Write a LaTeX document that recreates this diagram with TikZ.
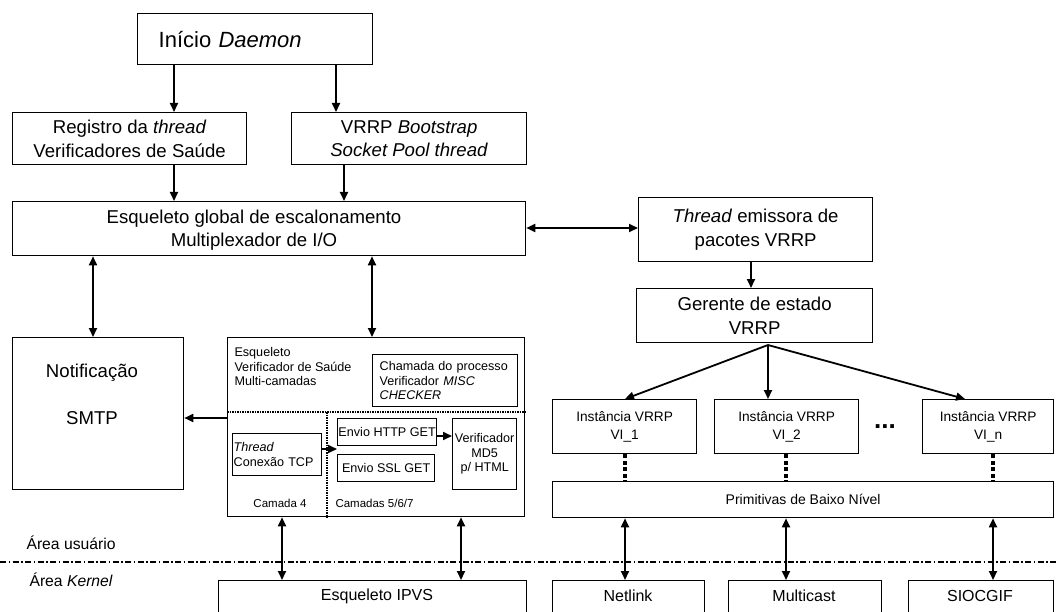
\documentclass[tikz,border=0pt]{standalone}
\usepackage{fontspec}
\setmainfont{Liberation Sans}
\usetikzlibrary{arrows.meta}
\begin{document}
\begin{tikzpicture}[x=1pt,y=-1pt,
  box/.style={draw, line width=1.3pt, inner sep=0pt, align=center, anchor=north west},
  arr/.style={line width=1.8pt, -{Triangle[length=9pt,width=8pt]}},
  darr/.style={line width=1.8pt, {Triangle[length=9pt,width=8pt]}-{Triangle[length=9pt,width=8pt]}},
  fdot/.style={line width=1.4pt, dash pattern=on 1.5pt off 1pt},
  tdot/.style={line width=3.8pt, dash pattern=on 4pt off 2.5pt},
  sep/.style={line width=1.3pt, dash pattern=on 6pt off 2.5pt on 1.5pt off 2.5pt},
  big/.style={font=\fontsize{22}{26}\selectfont},
  main/.style={font=\fontsize{18.6}{23.5}\selectfont},
  small/.style={font=\fontsize{12.6}{14.5}\selectfont},
  tiny/.style={font=\fontsize{11.5}{14}\selectfont},
  vi/.style={font=\fontsize{13.7}{18.5}\selectfont},
  kern/.style={font=\fontsize{16}{19}\selectfont},
  area/.style={font=\fontsize{15.7}{19}\selectfont, anchor=west}
]
\useasboundingbox (0,0) rectangle (1056,612);
\clip (0,0) rectangle (1056,612);

% top part
\node[box, big, minimum width=235pt, minimum height=51pt, text width=193pt, align=left, inner xsep=21pt] (inicio) at (137,13) {Início \textit{Daemon}};
\node[box, main, minimum width=234pt, minimum height=52pt] (reg) at (12,112) {Registro da \textit{thread}\\Verificadores de Saúde};
\node[box, main, minimum width=235pt, minimum height=52pt] (boot) at (291,112) {VRRP \textit{Bootstrap}\\\textit{Socket Pool thread}};
\node[box, minimum width=513pt, minimum height=54pt] (glob) at (12,201) {};
\node[main, align=center] (globt) at (254,230) {Esqueleto global de escalonamento\\Multiplexador de I/O};

% VRRP side
\node[box, main, minimum width=234pt, minimum height=64pt] (thr) at (638,197) {\textit{Thread} emissora de\\pacotes VRRP};
\node[box, main, minimum width=236pt, minimum height=54pt] (ger) at (636,288) {Gerente de estado\\VRRP};
\node[box, vi, minimum width=144pt, minimum height=54pt] (vi1) at (552,399) {Instância VRRP\\VI\_1};
\node[box, vi, minimum width=144pt, minimum height=54pt] (vi2) at (714,399) {Instância VRRP\\VI\_2};
\node[box, vi, minimum width=131pt, minimum height=54pt] (vin) at (922,399) {Instância VRRP\\VI\_n};
\node[font=\fontsize{26}{28}\selectfont\bfseries, inner sep=0pt] (dots) at (885,427) {...};
\node[box, font=\fontsize{14}{17}\selectfont, minimum width=501pt, minimum height=36pt] (prim) at (552,481) {Primitivas de Baixo Nível};

% notification
\node[box, minimum width=171pt, minimum height=152pt] (notif) at (12,337) {};
\node[main] (notift) at (92,373) {Notificação};
\node[main] (smtp) at (92,418) {SMTP};

% multi-layer checker
\node[box, minimum width=297pt, minimum height=179pt] (mlb) at (227,337) {};
\node[small, anchor=west, align=left] (mlt) at (231,366.5) {Esqueleto\\Verificador de Saúde\\Multi-camadas};
\node[box, small, minimum width=145pt, minimum height=52pt, text width=131pt, inner xsep=7pt, align=left] (cham) at (372,354) {Chamada do processo\\Verificador \textit{MISC}\\\textit{CHECKER}};
\node[box, small, minimum width=89pt, minimum height=42pt, text width=87pt, inner xsep=1pt, align=left] (tcp) at (232,433) {\textit{Thread}\\Conexão TCP};
\node[box, small, minimum width=99pt, minimum height=27pt] (http) at (337,418) {Envio HTTP GET};
\node[box, small, minimum width=97pt, minimum height=27pt] (ssl) at (337,454) {Envio SSL GET};
\node[box, small, minimum width=64pt, minimum height=71pt] (md5) at (452,418) {Verificador\\MD5\\p/ HTML};
\node[tiny] (cam4) at (280,503) {Camada 4};
\node[tiny, anchor=west] (cam5) at (332,503) {Camadas 5/6/7};
\draw[fdot] (mlb.west |- 0,412) -- (mlb.east |- 0,412);
\draw[fdot] (327,412) -- (327,0 |- mlb.south);

% kernel
\node[box, minimum width=308pt, minimum height=40pt] (ipvs) at (218,580) {};
\node[kern] (ipvst) at (377,596) {Esqueleto IPVS};
\node[box, minimum width=152pt, minimum height=40pt] (net) at (552,580) {};
\node[kern] (nett) at (628,596) {Netlink};
\node[box, minimum width=153pt, minimum height=40pt] (mult) at (728,580) {};
\node[kern] (multt) at (804,596) {Multicast};
\node[box, minimum width=145pt, minimum height=40pt] (sio) at (908,580) {};
\node[kern] (siot) at (980,596) {SIOCGIF};

% areas
\draw[sep] (0,562) -- (1056,562);
\node[area] (au) at (23,543) {Área usuário};
\node[area] (ak) at (26,580) {Área \textit{Kernel}};

% connectors
\draw[arr] (174,0 |- inicio.south) -- (174,0 |- reg.north);
\draw[arr] (336,0 |- inicio.south) -- (336,0 |- boot.north);
\draw[arr] (174,0 |- reg.south) -- (174,0 |- glob.north);
\draw[arr] (344,0 |- boot.south) -- (344,0 |- glob.north);
\draw[darr] (glob.east |- 0,228) -- (thr.west |- 0,228);
\draw[arr] (751,0 |- thr.south) -- (751,0 |- ger.north);
\draw[darr] (93,0 |- glob.south) -- (93,0 |- notif.north);
\draw[darr] (372,0 |- glob.south) -- (372,0 |- mlb.north);
\draw[arr] (mlb.west |- 0,418) -- (notif.east |- 0,418);
\draw[arr] (tcp.east |- 0,449) -- (http.west |- 0,449);
\draw[arr] (http.east |- 0,436) -- (md5.west |- 0,436);
\coordinate (apex) at (768,345);
\draw[arr] (apex) -- (625,0 |- vi1.north);
\draw[arr] (apex) -- (768,0 |- vi2.north);
\draw[arr] (apex) -- (965,0 |- vin.north);
\draw[tdot] (625,0 |- vi1.south) -- (625,0 |- prim.north);
\draw[tdot] (786,0 |- vi2.south) -- (786,0 |- prim.north);
\draw[tdot] (993,0 |- vin.south) -- (993,0 |- prim.north);
\draw[darr] (282,0 |- mlb.south) -- (282,0 |- ipvs.north);
\draw[darr] (461,0 |- mlb.south) -- (461,0 |- ipvs.north);
\draw[darr] (625,0 |- prim.south) -- (625,0 |- net.north);
\draw[darr] (786,0 |- prim.south) -- (786,0 |- mult.north);
\draw[darr] (993,0 |- prim.south) -- (993,0 |- sio.north);
\end{tikzpicture}
\end{document}
